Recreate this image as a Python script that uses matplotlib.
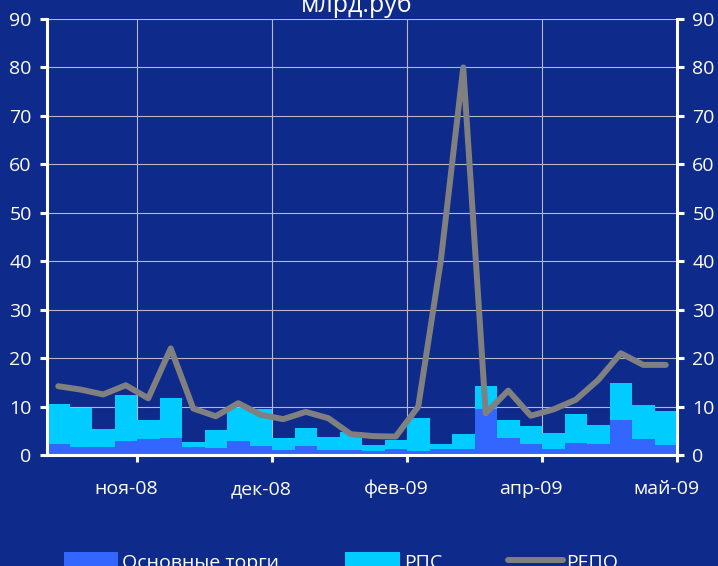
import numpy as np
import matplotlib
matplotlib.use('Agg')
import matplotlib.pyplot as plt
import matplotlib.transforms as mtransforms
from matplotlib.patches import Patch
from matplotlib.lines import Line2D

bg_color = '#0e2a8a'
main_color = '#3366ff'
rps_color = '#00ccff'
repo_color = '#808080'

# weekly values, bln rub
main_trades = [2.3, 1.7, 1.7, 2.9, 3.2, 3.6, 1.7, 1.5, 2.9, 1.9, 1.0, 1.9, 1.0, 1.0,
               0.8, 1.2, 0.8, 1.2, 1.2, 9.5, 3.5, 2.3, 1.2, 2.5, 2.3, 7.2, 3.3, 2.1]
rps = [8.2, 8.1, 3.7, 9.5, 4.0, 8.2, 1.0, 3.7, 6.9, 7.5, 2.5, 3.7, 2.7, 3.7,
       1.3, 1.9, 6.8, 1.1, 3.1, 4.7, 3.7, 3.7, 3.3, 6.0, 3.9, 7.7, 7.0, 7.0]
repo = [14.2, 13.5, 12.5, 14.4, 11.7, 22.0, 9.6, 8.0, 10.7, 8.3, 7.4, 8.9, 7.6, 4.3,
        3.9, 3.8, 10.0, 40.0, 80.0, 8.6, 13.3, 8.1, 9.4, 11.4, 15.5, 21.0, 18.6, 18.6]
month_labels = ['ноя-08', 'дек-08', 'фев-09', 'апр-09', 'май-09']
month_pos = [3.5, 9.5, 15.5, 21.5, 27.5]

plt.rcParams['font.family'] = ['Open Sans', 'DejaVu Sans']

fig = plt.figure(figsize=(7.18, 5.66), dpi=100, facecolor=bg_color)
ax = fig.add_axes([47 / 718, 1 - 455 / 566, 630 / 718, 436 / 566])
ax.set_facecolor(bg_color)

x = np.arange(len(main_trades))
ax.bar(x, main_trades, width=1.0, color=main_color, linewidth=0, zorder=2)
ax.bar(x, rps, width=1.0, bottom=main_trades, color=rps_color, linewidth=0, zorder=2)
ax.plot(x, repo, color=repo_color, linewidth=4.3, solid_capstyle='round', zorder=3)

ax.set_xlim(-0.5, 27.5)
ax.set_ylim(0, 90)
ax.set_yticks(range(0, 91, 10))
ax.set_xticks(month_pos)
ax.set_xticklabels(month_labels)

ax.grid(True, color='#b8b8c8', linewidth=0.8, zorder=1)
ax.set_axisbelow(True)

for side in ['left', 'right', 'bottom']:
    ax.spines[side].set_color('white')
    ax.spines[side].set_linewidth(2.2)
ax.spines['top'].set_visible(False)

ax.tick_params(axis='y', which='both', left=True, right=True, labelleft=True, labelright=True,
               direction='out', length=5, width=2.2, color='white', labelcolor='white',
               labelsize=14, pad=6)
ax.tick_params(axis='x', direction='out', length=5, width=2.2, color='white', labelcolor='white',
               labelsize=14, pad=13)

# month labels sit a little left of their ticks
shift = mtransforms.ScaledTranslation(-11 / 100, 0, fig.dpi_scale_trans)
for lbl in ax.get_xticklabels():
    lbl.set_transform(lbl.get_transform() + shift)

fig.text(357 / 718, 1 - 12 / 566, 'млрд.руб', color='white', fontsize=18,
         ha='center', va='baseline')

handles = [Patch(facecolor=main_color, edgecolor='none'),
           Patch(facecolor=rps_color, edgecolor='none'),
           Line2D([0], [0], color=repo_color, linewidth=4.3, solid_capstyle='round')]
labels = ['Основные торги', 'РПС', 'РЕПО']
leg = fig.legend(handles, labels, loc='upper left', bbox_to_anchor=(64 / 718, 1 - 552 / 566),
                 ncol=3, frameon=False, fontsize=14, handlelength=2.8, handleheight=1.1,
                 handletextpad=0.2, columnspacing=3.4, borderpad=0, borderaxespad=0)
for t in leg.get_texts():
    t.set_color('white')

fig.savefig('out.png', dpi=100, facecolor=bg_color)
